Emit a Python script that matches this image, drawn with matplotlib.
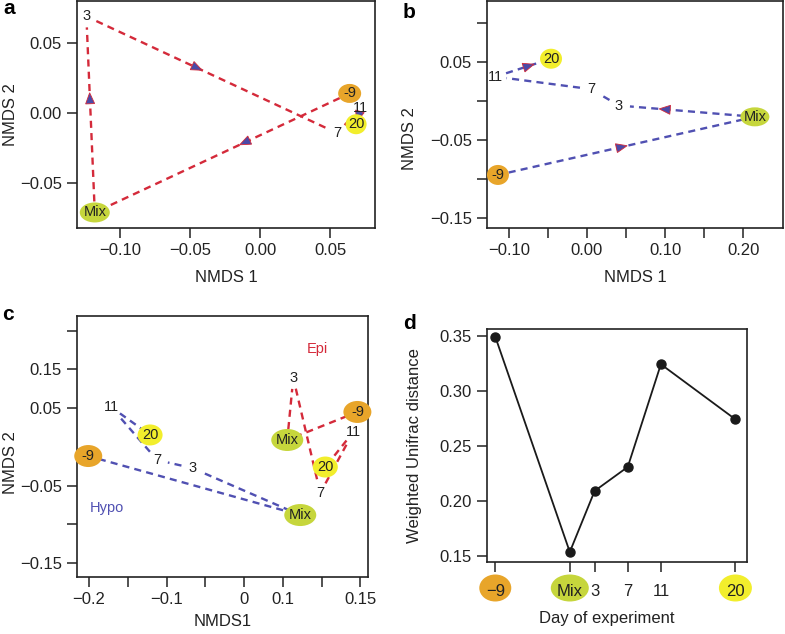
import numpy as np
import matplotlib.pyplot as plt
from matplotlib.patches import Ellipse, Polygon

plt.rcParams['font.family'] = ['Liberation Sans', 'DejaVu Sans']

# sample labels, in time order
days = ['-9', 'Mix', '3', '7', '11', '20']

# panel a: NMDS of the epilimnion series
a_x = [0.064, -0.118, -0.124, 0.055, 0.072, 0.0686]
a_y = [0.014, -0.071, 0.069, -0.0143, 0.0036, -0.008]

# panel b: NMDS of the hypolimnion series
b_x = [-0.114, 0.215, 0.041, 0.005, -0.117, -0.046]
b_y = [-0.095, -0.0205, -0.006, 0.015, 0.031, 0.054]

# panel c: both layers together
hypo_x = [-0.201, 0.0726, -0.0669, -0.1121, -0.1716, -0.1212]
hypo_y = [-0.0118, -0.088, -0.0273, -0.017, 0.0515, 0.0154]
epi_x = [0.1463, 0.0558, 0.0636, 0.0984, 0.1411, 0.1049]
epi_y = [0.0451, 0.0089, 0.089, -0.0596, 0.0193, -0.026]

# panel d: distance between layers per day
d_pos = [-9, 0, 3, 7, 11, 20]
d_dist = [0.349, 0.1536, 0.209, 0.2308, 0.324, 0.274]

RED = '#d42a3a'
BLUE = '#5050b2'
fill = {'-9': '#e8a52a', 'Mix': '#c6d63c', '20': '#f2ee2c'}
TXT = '#222222'

fig = plt.figure(figsize=(7.85, 6.34), dpi=100)
W, H = 785, 634


def box(l, t, r, b):
    return [l / W, 1 - b / H, (r - l) / W, (b - t) / H]


def style(ax):
    for s in ax.spines.values():
        s.set_linewidth(1.2)
        s.set_color('#222222')
    ax.tick_params(direction='out', length=7.5, width=1.1, labelsize=12,
                   colors='#222222', pad=3.5)


def ellipse(ax, x, y, wpx, hpx, color, z=3):
    x0, x1 = ax.get_xlim()
    y0, y1 = ax.get_ylim()
    w = wpx * (x1 - x0) / ax.bbox.width
    h = hpx * (y1 - y0) / ax.bbox.height
    ax.add_patch(Ellipse((x, y), w, h, facecolor=color, edgecolor='none',
                         zorder=z, clip_on=False))


def path(ax, xs, ys, color, gap=11, arrows=None):
    disp = ax.transData.transform(np.column_stack([xs, ys]))
    inv = ax.transData.inverted()
    for i in range(len(xs) - 1):
        p, q = disp[i], disp[i + 1]
        u = (q - p) / np.hypot(*(q - p))
        seg = inv.transform([p + u * gap, q - u * gap])
        ax.plot(seg[:, 0], seg[:, 1], color=color, lw=1.7,
                ls=(0, (3, 2.2)), zorder=2)
        if arrows and arrows[i] is not None:
            c = p + (q - p) * arrows[i]
            n = np.array([-u[1], u[0]])
            tri = [c + u * 6, c - u * 5 + n * 4.5, c - u * 5 - n * 4.5]
            ax.add_patch(Polygon(inv.transform(tri), closed=True,
                                 facecolor='#4a4aa8', edgecolor=RED,
                                 lw=0.6, zorder=2.5))


def labels(ax, xs, ys, sizes):
    for x, y, lab in zip(xs, ys, days):
        if lab in fill:
            ellipse(ax, x, y, *sizes[lab], fill[lab])
        ax.text(x, y, lab, ha='center', va='center', fontsize=10.5,
                color=TXT, zorder=4)


minus = '\u2212'

# ---- a ----
ax = fig.add_axes(box(77, 1, 375, 228))
ax.set_xlim(-0.1307, 0.0821)
ax.set_ylim(-0.0821, 0.080)
style(ax)
ax.set_xticks([-0.10, -0.05, 0.0, 0.05])
ax.set_xticklabels([minus + '0.10', minus + '0.05', '0.00', '0.05'])
ax.set_yticks([-0.05, 0.0, 0.05])
ax.set_yticklabels([minus + '0.05', '0.00', '0.05'])
path(ax, a_x, a_y, RED, arrows=[0.41, 0.58, 0.44, None, 0.5])
labels(ax, a_x, a_y, {'-9': (23, 19), 'Mix': (30, 20), '20': (21, 20)})
ax.set_xlabel('NMDS 1', fontsize=12, va='center', color=TXT)
ax.xaxis.set_label_coords(0.5, -50 / 227)
ax.set_ylabel('NMDS 2', fontsize=12, va='center', color=TXT)
ax.yaxis.set_label_coords(-66 / 298, 0.5)
fig.text(9 / W, 1 - 9 / H, 'a', fontsize=15, fontweight='bold',
         ha='center', va='center')

# ---- b ----
ax = fig.add_axes(box(487, 1, 783, 228))
ax.set_xlim(-0.128, 0.251)
ax.set_ylim(-0.163, 0.128)
style(ax)
ax.set_xticks(np.arange(-0.10, 0.201, 0.05))
ax.set_xticklabels([minus + '0.10', '', '0.00', '', '0.10', '', '0.20'])
ax.set_yticks(np.arange(-0.15, 0.101, 0.05))
ax.set_yticklabels([minus + '0.15', '', minus + '0.05', '', '0.05', ''])
path(ax, b_x, b_y, BLUE, arrows=[0.48, 0.66, None, None, 0.59])
labels(ax, b_x, b_y, {'-9': (22, 20), 'Mix': (29, 19), '20': (22, 20)})
ax.set_xlabel('NMDS 1', fontsize=12, va='center', color=TXT)
ax.xaxis.set_label_coords(0.5, -50 / 227)
ax.set_ylabel('NMDS 2', fontsize=12, va='center', color=TXT)
ax.yaxis.set_label_coords(-77 / 296, 0.396)
fig.text(409 / W, 1 - 12 / H, 'b', fontsize=15, fontweight='bold',
         ha='center', va='center')

# ---- c ----
ax = fig.add_axes(box(77, 316, 368, 577))
ax.set_xlim(-0.2155, 0.160)
ax.set_ylim(-0.168, 0.169)
style(ax)
ax.set_xticks(np.arange(-0.20, 0.151, 0.05))
ax.set_xticklabels([minus + '0.2', '', minus + '0.1', '', '0', '0.1', '',
                    '0.15'])
ax.set_yticks([-0.15, -0.10, -0.05, 0.05, 0.10, 0.15])
ax.set_yticklabels([minus + '0.15', '', minus + '0.05', '0.05', '0.15', ''])
path(ax, hypo_x, hypo_y, BLUE)
path(ax, epi_x, epi_y, RED)
csz = {'-9': (28, 22), 'Mix': (32, 22), '20': (25, 21)}
labels(ax, hypo_x, hypo_y, csz)
labels(ax, epi_x, epi_y, csz)
ax.text(0.0946, 0.1265, 'Epi', color=RED, fontsize=10.5, ha='center',
        va='center')
ax.text(-0.1767, -0.0789, 'Hypo', color=BLUE, fontsize=10.5, ha='center',
        va='center')
ax.set_xlabel('NMDS1', fontsize=12, va='center', color=TXT)
ax.xaxis.set_label_coords(0.5, -45 / 261)
ax.set_ylabel('NMDS 2', fontsize=12, va='center', color=TXT)
ax.yaxis.set_label_coords(-66 / 291, 0.437)
fig.text(8 / W, 1 - 315 / H, 'c', fontsize=15, fontweight='bold',
         ha='center', va='center')

# ---- d ----
ax = fig.add_axes(box(487, 329, 747, 562))
ax.set_xlim(-10, 21.4)
ax.set_ylim(0.1445, 0.356)
style(ax)
ax.plot(d_pos, d_dist, color='#1a1a1a', lw=1.3, marker='o', markersize=6.5,
        zorder=3)
ax.set_yticks([0.15, 0.20, 0.25, 0.30, 0.35])
ax.set_yticklabels(['0.15', '0.20', '0.25', '0.30', '0.35'])
ax.set_xticks(d_pos)
ax.set_xticklabels([minus + '9', 'Mix', '3', '7', '11', '20'])
ax.tick_params(axis='x', pad=8)
y_lab = ax.get_ylim()[0] - 26 * (ax.get_ylim()[1] - ax.get_ylim()[0]) / ax.bbox.height
for x, lab in zip(d_pos, days):
    if lab in fill:
        w = {'-9': 32, 'Mix': 38, '20': 33}[lab]
        ellipse(ax, x, y_lab, w, 27, fill[lab], z=1)
ax.set_xlabel('Day of experiment', fontsize=12, va='center', color=TXT)
ax.xaxis.set_label_coords(0.46, -56 / 233)
ax.set_ylabel('Weighted Unifrac distance', fontsize=12, va='center',
              color=TXT)
ax.yaxis.set_label_coords(-72 / 260, 0.5)
fig.text(409 / W, 1 - 323 / H, 'd', fontsize=15, fontweight='bold',
         ha='center', va='center')

fig.savefig('out.png', dpi=100)
